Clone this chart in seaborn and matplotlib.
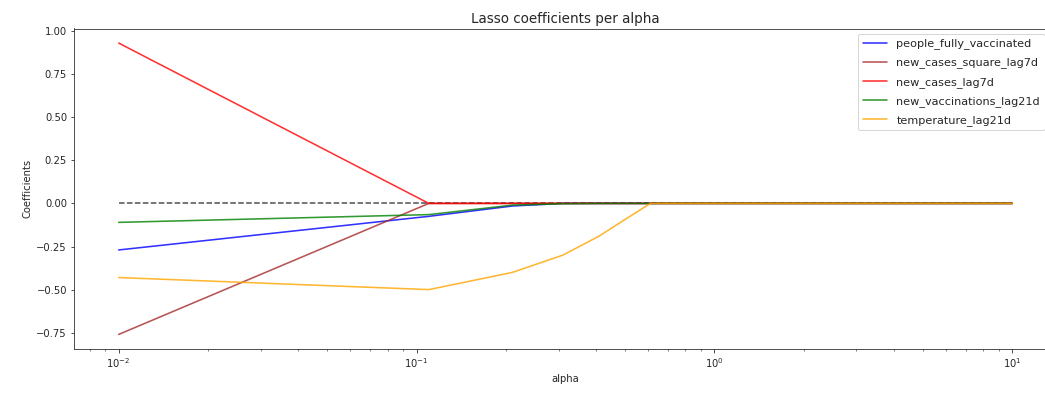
import matplotlib
matplotlib.use("Agg")
import matplotlib.pyplot as plt
import seaborn as sns
import pandas as pd

# Regularisation strengths and the Lasso coefficient paths
alphas = [0.01, 0.11, 0.21, 0.31, 0.41, 0.51, 0.61, 10.01]
people_fully_vaccinated = [-0.27, -0.075, -0.015, 0.0, 0.0, 0.0, 0.0, 0.0]
new_cases_square_lag7d = [-0.76, 0.0, 0.0, 0.0, 0.0, 0.0, 0.0, 0.0]
new_cases_lag7d = [0.93, 0.0, 0.0, 0.0, 0.0, 0.0, 0.0, 0.0]
new_vaccinations_lag21d = [-0.11, -0.065, -0.01, -0.002, 0.0, 0.0, 0.0, 0.0]
temperature_lag21d = [-0.43, -0.50, -0.40, -0.30, -0.19, -0.085, 0.0, 0.0]

features = ["people_fully_vaccinated", "new_cases_square_lag7d", "new_cases_lag7d",
            "new_vaccinations_lag21d", "temperature_lag21d"]
series = [people_fully_vaccinated, new_cases_square_lag7d, new_cases_lag7d,
          new_vaccinations_lag21d, temperature_lag21d]
colors = ["blue", "brown", "red", "green", "orange"]

rows = []
for name, vals in zip(features, series):
    for a, v in zip(alphas, vals):
        rows.append({"alpha": a, "coef": v, "feature": name})
df = pd.DataFrame(rows)

sns.set_style("ticks")
plt.rcParams["font.family"] = ["DejaVu Sans"]

W, H = 1045, 394
fig = plt.figure(figsize=(W / 72, H / 72), dpi=72)
ax = fig.add_axes([74 / W, 45 / H, (1057 - 74) / W, (349 - 28.5) / H])

ax.plot([alphas[0], alphas[-1]], [0, 0], color="black", linestyle="--", alpha=0.7, linewidth=1.5)

sns.lineplot(data=df, x="alpha", y="coef", hue="feature", hue_order=features,
             palette=dict(zip(features, colors)), estimator=None, sort=False,
             linewidth=1.6, alpha=0.8, ax=ax)

ax.set_xscale("log")
ax.margins(x=0.05, y=0.05)
ax.set_xlabel("alpha", fontsize=10)
ax.set_ylabel("Coefficients", fontsize=10)
ax.set_title("Lasso coefficients per alpha", fontsize=13.5, pad=5)
ax.tick_params(labelsize=10)

handles, labels = ax.get_legend_handles_labels()
ax.legend(handles, labels, loc="upper left", bbox_to_anchor=(858 / W, 1 - 34 / H),
          bbox_transform=fig.transFigure, borderaxespad=0, fontsize=11.3,
          handlelength=2.2, labelspacing=0.72, frameon=True)

fig.savefig("out.png", dpi=72)
